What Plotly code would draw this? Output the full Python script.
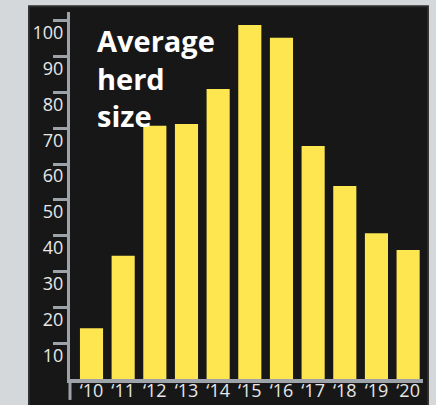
import plotly.graph_objects as go

years = ["‘10", "‘11", "‘12", "‘13", "‘14", "‘15", "‘16", "‘17", "‘18", "‘19", "‘20"]
herd_size = [14.2, 34.4, 70.7, 71.2, 81.0, 98.9, 95.3, 65.1, 53.9, 40.7, 36.0]
y_ticks = [10, 20, 30, 40, 50, 60, 70, 80, 90, 100]
title_lines = ["Average", "herd", "size"]

BG = "#d5d8db"
PANEL = "#171717"
AXIS = "#9ea3aa"
BAR = "#fde64f"
TXT = "#e8e8e8"

fig = go.Figure(go.Bar(x=years, y=herd_size, marker=dict(color=BAR, line=dict(width=0)),
                       hoverinfo="skip"))

fig.update_layout(
    width=436, height=405,
    margin=dict(l=70, r=13, t=12, b=26),
    paper_bgcolor=BG,
    plot_bgcolor="rgba(0,0,0,0)",
    bargap=0.27,
    showlegend=False,
    font=dict(family="Open Sans", size=18, color=TXT),
)
fig.update_xaxes(
    type="category", range=[-0.679, 10.47],
    showgrid=False, zeroline=False,
    showline=True, linecolor=AXIS, linewidth=4,
    ticks="", tickfont=dict(family="Open Sans", size=18, color=TXT),
    ticklabelstandoff=-8,
    automargin=False,
)
fig.update_yaxes(
    range=[0, 102.5], showgrid=False, zeroline=False,
    showline=True, linecolor=AXIS, linewidth=3,
    tickvals=y_ticks, ticktext=[str(v) for v in y_ticks],
    ticks="outside", ticklen=14, tickwidth=3, tickcolor=AXIS,
    ticklabelstandoff=-14, ticklabelshift=12,
    tickfont=dict(family="Open Sans", size=18, color=TXT),
    automargin=False,
)

# dark panel behind the chart
fig.add_shape(type="rect", xref="paper", yref="paper",
              x0=-0.116, x1=1.014, y0=-0.1, y1=1.016,
              fillcolor=PANEL, line=dict(color="#2c2c2c", width=2), layer="below")
# y axis line extending below x axis
fig.add_shape(type="line", xref="paper", yref="paper",
              x0=0, x1=0, y0=0, y1=-0.057,
              line=dict(color=AXIS, width=3), layer="above")

fig.add_annotation(text="<br>".join(title_lines), xref="paper", yref="paper",
                   x=(95 - 70) / 353, y=(379 - 78) / 367, align="left",
                   xanchor="left", yanchor="middle", showarrow=False,
                   font=dict(family="Open Sans", size=29, color="white", weight="bold"))

fig.write_html("out.html", config={"displayModeBar": False, "staticPlot": True},
               post_script="document.body.style.margin='0';document.body.style.overflow='hidden';")
